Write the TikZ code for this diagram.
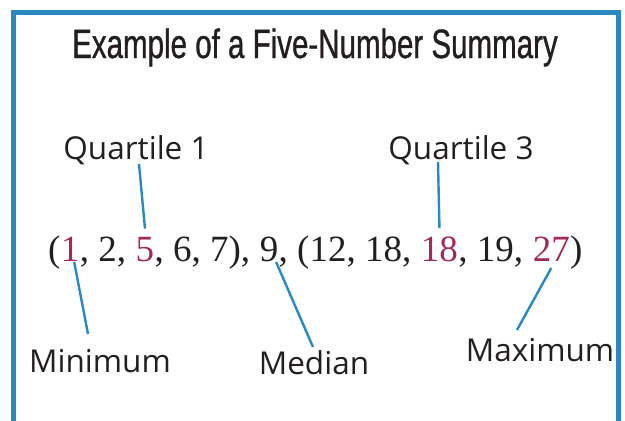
\documentclass[tikz,border=0pt]{standalone}
\usepackage{fontspec}
\setmainfont{Liberation Serif}
\newfontfamily\labelfont{Open Sans}
\newfontfamily\titlefont[FakeStretch=0.72,FakeBold=0.8]{Liberation Sans}
\definecolor{frameblue}{HTML}{2B88C0}
\definecolor{hlred}{HTML}{A02A5C}
\definecolor{ink}{HTML}{231F20}
\newcommand{\gap}{\kern.25em}
\begin{document}
\begin{tikzpicture}[x=1pt,y=-1pt,
  lbl/.style={font=\labelfont\fontsize{31.5}{36}\selectfont, text=ink, inner sep=0pt, anchor=base},
  num/.style={font=\fontsize{37}{42}\selectfont, text=ink, inner sep=0pt, anchor=base west},
  hl/.style={num, text=hlred},
  conn/.style={frameblue, line width=2.4pt}]
  \useasboundingbox (0,0) rectangle (625,421);
  \draw[frameblue, line width=5pt] (13.5,430) -- (13.5,12.5) -- (618.5,12.5) -- (618.5,430);
  \node[text=ink, inner sep=0pt, anchor=base, font=\titlefont\fontsize{41}{46}\selectfont] (title) at (315,58) {Example of a Five-Number Summary};
  % the data, piece by piece
  \node[num] (s0) at (48,261) {(};
  \node[hl] (min) at (s0.base east) {1};
  \node[num] (s1) at (min.base east) {,\gap2,\gap};
  \node[hl] (q1) at (s1.base east) {5};
  \node[num] (s2) at (q1.base east) {,\gap6,\gap7),\gap};
  \node[num] (med) at (s2.base east) {9};
  \node[num] (s3) at (med.base east) {,\gap(12,\gap18,\gap};
  \node[hl] (q3) at (s3.base east) {18};
  \node[num] (s4) at (q3.base east) {,\gap19,\gap};
  \node[hl] (max) at (s4.base east) {27};
  \node[num] (s5) at (max.base east) {)};
  % labels
  \node[lbl] (lq1) at (136,159) {Quartile 1};
  \node[lbl] (lq3) at (461,159) {Quartile 3};
  \node[lbl] (lmin) at (100,372) {Minimum};
  \node[lbl] (lmed) at (314,374) {Median};
  \node[lbl] (lmax) at (540,361) {Maximum};
  \draw[conn] ([shift={(3,5)}]lq1.base) -- ([shift={(0,-8)}]q1.north);
  \draw[conn] ([shift={(-23,3)}]lq3.base) -- ([shift={(0,-8)}]q3.north);
  \draw[conn] ([shift={(4,1)}]min.base) -- ([shift={(-12,-38)}]lmin.base);
  \draw[conn] ([shift={(7,1)}]med.base) -- ([shift={(-1,-27)}]lmed.base);
  \draw[conn] ([shift={(0,7)}]max.base) -- ([shift={(-23,-31)}]lmax.base);
\end{tikzpicture}
\end{document}
